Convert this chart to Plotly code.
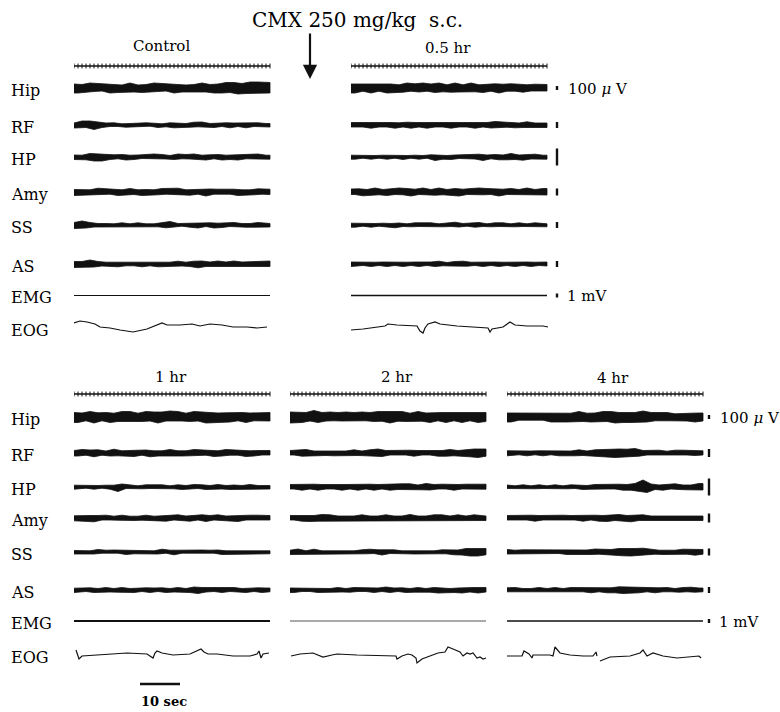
import numpy as np
import plotly.graph_objects as go

# ------------------------------------------------------------------
# Polygraphic recording: CMX 250 mg/kg s.c.
# EEG channels are stored as successive peak excursions (one per
# half-wave, alternately upward and downward, pen-deflection units);
# EOG as (time, deflection) pairs, positive = upward deflection.
# ------------------------------------------------------------------
ROW_LABELS = ["Hip", "RF", "HP", "Amy", "SS", "AS", "EMG", "EOG"]
PANEL_TITLES = ["Control", "0.5 hr", "1 hr", "2 hr", "4 hr"]
EPOCH_SEC = 49.0          # length of each sweep
TIME_MARK_SEC = 1.0       # time-marker tick interval
SCALE_BAR_SEC = 10.0      # time calibration bar

# --- Control ---
CTRL_HIP = [4, 5, 3.5, 4.5, 5, 3.5, 4.5, 3, 4, 5, 3.5, 4.5, 3, 4, 5, 4, 3, 4.5, 3.5, 4,
            5, 3.5, 4.5, 3, 4, 5, 3.5, 4, 3, 4.5, 3.5, 4, 5, 4, 3.5, 5, 4, 5, 5.5, 4.5,
            5.5, 6, 4.5, 5.5, 6, 5, 6, 5, 5.5, 5]
CTRL_RF = [2, 3, 4, 2.5, 4, 4.5, 3, 2.5, 2, 1.5, 2.2, 1.5, 1.2, 2.2, 1.5, 1.2, 2.2, 1.5, 2.2, 1.2,
           1.8, 2.5, 1.2, 1.8, 2.2, 2.8, 1.5, 2.2, 1.5, 2.2, 2.8, 1.8, 3, 2, 1.5, 2.5, 2, 1.5, 2.2, 2.8,
           2, 1.5, 2.2, 2.8, 2, 1.5, 2.2, 2, 1.5, 2]
CTRL_HP = [2, 2.5, 1.8, 2.8, 3.5, 4, 3, 4, 3.2, 2.5, 2.2, 1.8, 2.5, 3, 1.8, 2.5, 2, 1.5, 2.5, 2,
           3, 1.8, 2.5, 2, 1.5, 2.5, 3, 1.8, 2.5, 2, 3, 2.2, 1.8, 3, 2.2, 1.8, 2.5, 3, 1.8, 2.5,
           2, 3, 2.2, 1.8, 2.5, 2, 3, 2.2, 1.8, 2.2]
CTRL_AMY = [2.5, 3.5, 2.5, 3.2, 2.2, 3.2, 3.8, 2.5, 3.2, 2.2, 2.8, 3.5, 2.2, 2.8, 3.5, 2.5, 2.2, 3.5, 2.5, 3.2,
            2.2, 2.8, 3.5, 2.2, 3.5, 2.5, 3.8, 2.8, 2.2, 3.2, 2.5, 2.2, 3.2, 4, 3, 2.2, 2.8, 2.2, 3, 2.2,
            2.8, 3.5, 2.2, 2.8, 2.2, 2.8, 3.2, 2.2, 2.8, 2.5]
CTRL_SS = [2.5, 3.5, 4, 3, 2.5, 2, 1.5, 2.2, 1.5, 2.2, 1.2, 1.8, 2.2, 1.5, 1.2, 1.8, 2.2, 1.5, 1.2, 1.8,
           1.2, 1.8, 2.2, 2.8, 3.5, 2, 1.5, 1.2, 1.8, 2.2, 1.5, 3, 2, 1.5, 2.2, 3, 1.8, 2.5, 2, 1.5,
           2.5, 2, 1.5, 2.2, 1.5, 2.2, 2.5, 1.8, 1.5, 2]
CTRL_AS = [2.5, 3.5, 2.5, 3.5, 4, 3, 2.5, 2, 1.8, 2.5, 1.8, 2.8, 2, 1.8, 2.5, 1.8, 2.2, 2.8, 2, 1.8,
           2.5, 2.8, 1.8, 2.5, 1.8, 2.2, 2.8, 2, 1.8, 2.5, 2.8, 3.8, 3, 2.5, 2, 2.8, 3, 2.5, 2, 2.8,
           3, 2.5, 2, 2.8, 2.2, 2.8, 2.2, 2.5, 3, 2.5]
EOG_CTRL_T = [0, 1.5, 3.25, 5.25, 6.5, 9, 11.5, 14.75, 18.25, 21.5, 22, 23.25, 26.5, 29.5, 31.5,
              34, 37, 39.75, 43.25, 45.75, 48.25]
EOG_CTRL_V = [5, 7, 6, 4, 1, 0, -2, -4, -1, 4, 5, 3, 3, 4, 2, 4, 3, 1, 1, 0, 1]

# --- 0.5 hr ---
H05_HIP = [4, 5, 4, 3.2, 4.5, 5, 3.8, 3.2, 4.2, 5, 4, 4.5, 3.2, 4.2, 5, 3.2, 4.2, 4, 5, 3.2,
           4, 4.5, 5, 3.8, 3.2, 4.2, 5, 4, 3.2, 4.2, 5, 3.8, 3.2, 4.5, 4, 3.2, 4.2, 5, 3.8, 3.2,
           4.2, 3.2, 3.8, 4.2, 3.2, 3, 3.8, 3, 3.5, 3]
H05_RF = [2.5, 2, 2.8, 2, 2.5, 3.2, 2.5, 2, 2.8, 2, 2.5, 3.2, 2.2, 2, 2.8, 3.2, 2.5, 2, 2.5, 3.2,
          2.5, 2, 2.8, 2, 2.5, 3.2, 2.5, 2, 2.8, 2, 2.5, 3.2, 2.2, 2, 2.5, 3, 3.5, 2.5, 3, 2.2,
          2, 2.8, 2, 2.5, 3.2, 2.5, 2, 2.8, 2, 2.5]
H05_HP = [1.8, 2.2, 1.5, 1.2, 1.8, 2.2, 1.5, 1.2, 1.8, 2.2, 1.5, 1.2, 1.8, 2.5, 1.5, 1.2, 1.8, 2.2, 1.5, 1.2,
          2.2, 3.5, 1.5, 2.2, 1.5, 2.5, 2, 1.5, 2.2, 1.5, 2.5, 2, 2.8, 3.5, 2, 1.8, 2.5, 2.8, 2, 2.8,
          3.5, 2.5, 2, 3.2, 2.5, 2, 2.8, 2, 1.8, 2.2]
H05_AMY = [3, 2.5, 3.2, 3.8, 2.5, 3.2, 4, 2.8, 2.5, 3.5, 3, 2.5, 4, 2.8, 3.5, 4, 2.8, 2.5, 4, 3,
           2.5, 3.2, 4, 2.8, 2.5, 3.2, 3.5, 4, 2.8, 2.5, 3.5, 2.8, 4, 2.8, 3.5, 2.5, 3, 4, 2.8, 2.5,
           3.5, 2.8, 2.5, 3.2, 4, 2.8, 2.5, 3, 3.5, 3]
H05_SS = [1.8, 2.2, 1.5, 1.2, 1.8, 2.2, 1.5, 1.2, 1.8, 2.2, 1.5, 2.8, 2, 1.5, 1.2, 1.8, 2.2, 1.5, 2.5, 1.5,
          2.2, 1.5, 1.2, 1.8, 2.2, 1.5, 2.8, 2, 1.5, 1.2, 1.8, 2.2, 2.5, 1.5, 1.2, 1.8, 2.2, 1.5, 2.2, 1.5,
          1.2, 1.8, 2.2, 1.5, 1.2, 1.8, 2.2, 1.5, 1.2, 1.8]
H05_AS = [2, 2.5, 1.8, 1.5, 2, 2.5, 1.8, 1.5, 2, 2.5, 1.8, 1.5, 2.2, 2.5, 1.8, 1.5, 2, 2.5, 1.8, 1.5,
          2, 2.5, 2.8, 1.8, 1.5, 2, 2.5, 1.8, 2.8, 2.2, 1.8, 1.5, 2, 2.5, 1.8, 1.5, 2, 2.5, 1.8, 1.5,
          2, 2.5, 1.8, 1.5, 2, 2.5, 1.8, 1.5, 2, 2]
EOG_H05_T = [0, 3, 8.5, 9.25, 11.5, 16.5, 17.25, 18, 18.5, 19.25, 21, 22.25, 26.5, 30.5, 34.25,
             34.75, 35.25, 38, 39.75, 41, 44, 46.5, 48, 49.25]
EOG_H05_V = [-2, -1, 2, 4, 3, 2, -3, -5, 0, 4, 6, 4, 2, 1, 0, -4, -1, 1, 6, 3, 2, 2, 2, 1]

# --- 1 hr ---
H1_HIP = [4.5, 5.5, 4, 3.8, 5.5, 6, 4.2, 3.8, 4.5, 5.5, 3.8, 4.5, 5.5, 4, 5.5, 4.5, 3.8, 4.5, 5.5, 4,
          5, 6, 5, 4, 6, 4.2, 5.5, 4, 3.8, 4.5, 5.5, 4, 5, 6, 4.2, 5.5, 4, 5.5, 4.2, 5,
          4.5, 3.8, 4.5, 5.5, 4, 3.8, 4.5, 3.8, 4.5, 4]
H1_RF = [2.5, 3, 3.5, 2.2, 3, 3.8, 3.2, 2.2, 2, 3, 3.8, 2.8, 2.2, 3, 2.2, 3.5, 2.8, 2.2, 3, 3.8,
         2.2, 3, 2.2, 2.8, 3.5, 2.8, 2.2, 3, 2.2, 2.8, 3.5, 2.2, 3, 2.2, 2.8, 3.5, 2.2, 3, 3.5, 2.2,
         3, 2.2, 2.8, 3.5, 2.2, 3, 2.5, 2, 2.5, 2]
H1_HP = [1.8, 2.2, 1.5, 1.2, 1.8, 2.2, 1.5, 1.2, 1.8, 2.2, 1.8, 4.5, 3, 1.5, 2.2, 1.5, 1.2, 1.8, 2.2, 1.5,
         2.5, 1.5, 2.2, 1.5, 1.2, 1.8, 2.2, 2.5, 1.5, 2.2, 2.5, 1.5, 2.2, 2.5, 1.5, 2.2, 2.5, 2, 1.5, 2.5,
         2, 2.5, 1.5, 2.2, 2.5, 2, 1.5, 2.2, 1.5, 2]
H1_AMY = [2.2, 2.8, 2, 3.5, 2.5, 3.8, 2.5, 2, 2.8, 2, 1.8, 2.2, 2.8, 2, 1.8, 2.5, 1.8, 2.2, 2.8, 2,
          1.8, 2.8, 2.2, 3.2, 2.5, 2, 3.2, 2.5, 2, 3.2, 2.5, 2, 3.2, 3.5, 2.5, 2, 3.2, 2.5, 2, 3.2,
          2.5, 3.5, 2.5, 2, 2.8, 2, 2.8, 2, 2.5, 2]
H1_SS = [1.5, 2, 1.2, 1.8, 1.2, 2, 2.5, 1.2, 1.8, 1.2, 2, 1.2, 1.8, 2.5, 1.2, 1.8, 1.2, 2, 1.2, 1.8,
         1.2, 2, 2.8, 1.2, 1.8, 2.8, 1.8, 1.2, 2, 1.2, 1.8, 1.2, 2, 1.2, 1.8, 1.2, 2, 2.5, 1.2, 1.8,
         1.2, 2, 1.2, 1.8, 1.2, 2, 1.2, 1.8, 1.2, 1.8]
H1_AS = [1.8, 2.5, 2, 1.5, 2.2, 2.5, 1.5, 2, 2.5, 2, 1.5, 2.2, 2.5, 2, 1.5, 2.5, 2, 1.5, 2.2, 2.5,
         2, 1.5, 2.2, 2.5, 1.5, 2, 2.5, 2, 1.5, 2.5, 3, 3.5, 2.5, 2, 2.5, 1.5, 2, 2.5, 2, 1.5,
         2.5, 2, 1.5, 2.5, 2, 1.5, 2.2, 2.5, 2, 1.8]
EOG_H1_T = [0.5, 1.25, 2, 6.5, 13.25, 18.25, 19, 19.75, 20.25, 20.75, 22, 24.75, 29, 31, 31.75,
            32.5, 33.5, 35.75, 39.75, 44, 45.75, 46.25, 46.75, 47.25, 48.75]
EOG_H1_V = [5, -4, -1, 0, 2, 1, -1, -3, 2, 4, 2, 0, 1, 5, 6, 3, 1, 1, -1, -1, 1, 4, -3, 1, 2]

# --- 2 hr ---
H2_HIP = [5, 6, 4.5, 5.5, 4.5, 4, 6.5, 5.5, 4.5, 4, 5, 3.8, 4.5, 4, 5, 3.8, 4.5, 4, 5, 3.8,
          4.5, 4.5, 5.5, 4.2, 5.5, 6, 5.5, 4.2, 5.5, 4.5, 3.8, 4.5, 5.5, 4.2, 4, 5.5, 4.5, 3.8, 4.5, 5.5,
          4.5, 3.8, 4.5, 5.5, 4.5, 3.8, 4.5, 5.5, 4.5, 4.5]
H2_RF = [2.5, 2, 2.8, 3.2, 3.5, 2.5, 2, 2.8, 2, 2.5, 2, 2.8, 2, 2.5, 2, 2.8, 3.2, 2.5, 2, 2.8,
         3.2, 3.5, 4, 3.5, 2.5, 2, 2.8, 2, 2.5, 2, 2.8, 3.2, 2.5, 2, 2.8, 2, 2.5, 3.2, 2.5, 3.2,
         3.5, 2.8, 2.5, 3.2, 3.5, 3.8, 4, 4.5, 4, 3.2]
H2_HP = [2.5, 2, 2.8, 3.2, 2.5, 2, 2.8, 3.2, 2.5, 2, 2.8, 2, 2.5, 3.2, 2.5, 2, 2.8, 3.2, 2.5, 2,
         2.8, 3.2, 2.5, 2, 2.8, 3.2, 3.5, 2.5, 3.2, 2.5, 3.2, 2.5, 2, 2.8, 3.5, 3, 2.5, 2, 2.8, 2,
         2.5, 3.2, 2.5, 2, 2.8, 2, 2.5, 2, 2.8, 2.2]
H2_AMY = [2.5, 2, 2.8, 3.2, 2.5, 3.5, 2.5, 3.2, 3.5, 2.5, 3.2, 2.5, 2, 2.8, 2, 2.5, 2, 2.8, 3.2, 2.5,
          2, 2.8, 2, 2.5, 3.2, 2.5, 2, 2.8, 2, 2.5, 3.5, 2.5, 2, 2.8, 2, 2.5, 3.2, 2.5, 3.2, 2.5,
          2, 2.8, 3.2, 2.5, 2, 2.8, 3.2, 2.5, 2, 2.5]
H2_SS = [1.8, 2.5, 3, 1.8, 1.2, 1.8, 2.8, 1.8, 1.2, 1.8, 1.2, 2, 1.2, 1.8, 1.2, 2, 1.2, 1.8, 2.2, 1.8,
         2.8, 1.5, 2.2, 3, 2.5, 1.5, 2.2, 1.8, 1.2, 1.8, 1.2, 2, 1.2, 1.8, 1.2, 2, 1.2, 1.8, 2.2, 1.8,
         2.2, 2.8, 2, 3, 3.5, 4, 3.2, 4, 3.5, 2.8]
H2_AS = [2, 2.5, 2, 1.5, 2.2, 1.5, 2, 2.5, 1.5, 2.2, 1.5, 2, 2.5, 2, 1.5, 2.2, 2.5, 1.5, 2.2, 1.5,
         2, 2.5, 2, 1.5, 3, 2.5, 2, 1.5, 2.2, 2.5, 1.5, 2.2, 2.5, 2, 1.5, 2.2, 2.5, 3, 2, 2.5,
         1.5, 2.5, 2, 3, 2.5, 2, 2.5, 3, 2.5, 2]
EOG_H2_T = [0.25, 2.5, 5.75, 8.25, 10.5, 11.75, 16.75, 22.5, 26.5, 26.75, 28, 29.5, 30.5, 31.5,
            31.75, 33, 35, 37, 38.75, 39.5, 40.75, 42.5, 43.25, 44.25, 45, 45.75, 46.75, 47.5,
            48.25, 49]
EOG_H2_V = [-1, 1, 2, -2, 0, 1, 0, -1, -1, -4, -1, 1, 0, -3, -8, -4, -1, 2, 3, 8, 6, 3, -1, 2,
            1, 2, -3, -2, -4, -3]

# --- 4 hr ---
H4_HIP = [4, 5, 4, 3.2, 4.5, 3.2, 4.2, 3.2, 4.5, 3.2, 4, 5, 4, 5, 4, 5, 3.8, 5, 5.5, 4.5,
          3.8, 5, 4, 5, 5.5, 4.5, 5.5, 6, 4.5, 5.5, 4.5, 5.5, 4.5, 5.5, 6, 5, 4.5, 3.8, 4.5, 3.8,
          4.5, 3.8, 3.2, 4.2, 3.2, 4, 3.8, 5, 4, 4]
H4_RF = [2.2, 2.8, 2, 1.8, 2.2, 2.8, 2, 1.8, 2.2, 2.8, 2, 1.8, 2.2, 2.8, 2, 2.8, 2, 2.8, 3.2, 2.5,
         2, 2.8, 3.2, 3.5, 3.5, 4, 4.2, 4.5, 4, 4.5, 3.8, 3.5, 4.5, 3.2, 2.5, 2, 2.8, 2, 2.8, 2,
         1.8, 2.2, 2.8, 2, 2.8, 2, 2.8, 2.5, 2.2, 2]
H4_HP = [2, 1.5, 1.2, 1.8, 2.2, 1.5, 1.2, 1.8, 2.2, 1.5, 1.2, 1.8, 2.2, 1.5, 1.2, 1.8, 2.2, 1.5, 2.2, 2.5,
         1.5, 2.2, 2.5, 1.8, 2.8, 2, 2.8, 2, 2.8, 3.2, 2.5, 3.2, 3.5, 4, 7, 5.5, 3, 2.5, 2, 3.2,
         2.5, 2, 3.2, 2.5, 2, 2.8, 2, 3.2, 3.5, 3]
H4_AMY = [2.5, 2, 2.8, 2, 2.5, 2, 2.8, 3.2, 2.5, 2, 2.8, 2, 2.5, 2, 2.8, 2, 2.5, 2, 2.8, 3.2,
          2.5, 2, 2.8, 3.2, 2.5, 3.5, 3, 2.5, 3.5, 3, 2.5, 3.8, 3, 2.5, 3.2, 2.5, 2, 2.8, 2, 2.5,
          2, 2.8, 2, 2.5, 2, 2.8, 2, 2.5, 2, 2.5]
H4_SS = [2.5, 2, 1.8, 1.5, 2.2, 1.5, 2.2, 1.5, 2.2, 1.5, 2.2, 1.5, 2.2, 1.5, 2.2, 2.5, 1.8, 2.5, 1.8, 2.5,
         2, 2.5, 3, 2.2, 3, 3.2, 2.5, 3.2, 3.5, 3.8, 3.2, 4, 3.5, 3.2, 3.8, 3, 2.5, 2.2, 1.8, 2.5,
         1.8, 2.5, 1.8, 2.5, 2.8, 2.2, 2.8, 3.2, 2.5, 2.2]
H4_AS = [2.2, 1.8, 2.5, 1.8, 1.5, 2.2, 1.5, 2.2, 2.5, 1.8, 1.5, 2.2, 2.5, 1.8, 1.5, 2.2, 2.5, 1.8, 2.5, 1.8,
         2.5, 2.8, 2.2, 1.8, 2.5, 2.8, 2.2, 2.8, 3.2, 3.5, 3, 3.5, 3, 2.8, 2.2, 1.8, 2.5, 2.8, 2.2, 1.8,
         2.5, 1.8, 1.5, 2.2, 2.5, 1.8, 2.8, 2.2, 2, 1.8]
EOG_H4_T = [0, 3.75, 4.25, 5.5, 6.25, 6.5, 10.75, 11.5, 12, 13.25, 15.75, 19, 21.5, 22.25, 22.5,
            None, 23.25, 25.75, 30.75, 33.25, 34, 35, 36.5, 39, 42.5, 45.75, 48, 48.5]
EOG_H4_V = [-1, -1, 4, 1, -3, 0, 0, -1, 8, 2, 0, -1, -1, 3, -1,
            None, -6, -2, -1, 2, 5, -1, 2, -1, -3, -2, -1, -3]

# 100 uV calibration height per EEG channel (pen units) and 1 mV EMG mark
CAL_EEG_TOP = [4, 6, 17, 7, 6, 6]
CAL_EEG_BOT = [4, 8, 17, 9, 7, 6]
CAL_EMG = 4

# ------------------------------------------------------------------
# Layout (page is 780 x 712; each panel has its own x/y axis pair,
# y expressed in page units so all panels share one vertical scale)
# ------------------------------------------------------------------
W, H = 780, 712
INK = "#111111"
FONT = "DejaVu Serif"
PX_PER_SEC = 4.0
AXIS_SPAN = 62.0   # seconds of horizontal room per panel (sweep + calibration column)

ROWS_TOP = [88, 125, 157, 192, 225, 264, 295.5, 328]
ROWS_BOT = [417, 453, 487, 518, 552, 590, 621, 655]
MARK_TOP, MARK_BOT = 66, 394

PANELS = [
    dict(title=PANEL_TITLES[0], x0=74, rows=ROWS_TOP, mark=MARK_TOP, tx=161, ty=46,
         eeg=[CTRL_HIP, CTRL_RF, CTRL_HP, CTRL_AMY, CTRL_SS, CTRL_AS],
         eog=(EOG_CTRL_T, EOG_CTRL_V), emg_w=1.0, emg_c=INK, cal=None),
    dict(title=PANEL_TITLES[1], x0=351, rows=ROWS_TOP, mark=MARK_TOP, tx=448, ty=48,
         eeg=[H05_HIP, H05_RF, H05_HP, H05_AMY, H05_SS, H05_AS],
         eog=(EOG_H05_T, EOG_H05_V), emg_w=1.6, emg_c=INK, cal=(51.5, CAL_EEG_TOP)),
    dict(title=PANEL_TITLES[2], x0=74, rows=ROWS_BOT, mark=MARK_BOT, tx=171, ty=377,
         eeg=[H1_HIP, H1_RF, H1_HP, H1_AMY, H1_SS, H1_AS],
         eog=(EOG_H1_T, EOG_H1_V), emg_w=1.8, emg_c=INK, cal=None),
    dict(title=PANEL_TITLES[3], x0=290, rows=ROWS_BOT, mark=MARK_BOT, tx=397, ty=377,
         eeg=[H2_HIP, H2_RF, H2_HP, H2_AMY, H2_SS, H2_AS],
         eog=(EOG_H2_T, EOG_H2_V), emg_w=1.0, emg_c="#555555", cal=None),
    dict(title=PANEL_TITLES[4], x0=507, rows=ROWS_BOT, mark=MARK_BOT, tx=613, ty=378,
         eeg=[H4_HIP, H4_RF, H4_HP, H4_AMY, H4_SS, H4_AS],
         eog=(EOG_H4_T, EOG_H4_V), emg_w=1.4, emg_c=INK, cal=(50.5, CAL_EEG_BOT)),
]

fig = go.Figure()
annotations = []
layout_axes = {}


def line_trace(x, y, xa, ya, width, color=INK, **kw):
    return go.Scatter(x=x, y=y, xaxis=xa, yaxis=ya, mode="lines",
                      line=dict(color=color, width=width), hoverinfo="skip", **kw)


for i, p in enumerate(PANELS):
    n = "" if i == 0 else str(i + 1)
    xa, ya = "x" + n, "y" + n
    layout_axes["xaxis" + n] = dict(
        domain=[p["x0"] / W, min(1.0, (p["x0"] + PX_PER_SEC * AXIS_SPAN) / W)],
        range=[0, AXIS_SPAN], anchor=ya, visible=False, fixedrange=True,
    )
    layout_axes["yaxis" + n] = dict(domain=[0, 1], range=[H, 0], anchor=xa,
                                    visible=False, fixedrange=True)
    rows = p["rows"]

    # time marker: baseline with 1-s ticks
    fig.add_trace(line_trace([0, EPOCH_SEC], [p["mark"], p["mark"]], xa, ya, 1.3))
    ticks = np.arange(0, EPOCH_SEC + 0.01, TIME_MARK_SEC)
    fig.add_trace(go.Scatter(x=ticks, y=[p["mark"]] * len(ticks), xaxis=xa, yaxis=ya,
                             mode="markers", hoverinfo="skip",
                             marker=dict(symbol="line-ns", size=3.5,
                                         line=dict(color=INK, width=1))))

    # EEG channels: band between the upward peaks (even half-waves)
    # and the downward peaks (odd half-waves), squared off at the sweep ends
    for ch, pk in enumerate(p["eeg"]):
        pk = np.asarray(pk, dtype=float)
        t = np.linspace(0, EPOCH_SEC, len(pk))
        base = rows[ch]
        up_t, up_v = t[0::2], base - pk[0::2]
        dn_t, dn_v = t[1::2], base + pk[1::2]
        xs = np.concatenate([up_t, [EPOCH_SEC], dn_t[::-1], [0.0]])
        ys = np.concatenate([up_v, [up_v[-1]], dn_v[::-1], [dn_v[0]]])
        fig.add_trace(line_trace(xs, ys, xa, ya, 0.8, fill="toself", fillcolor=INK))

    # EMG (flat)
    fig.add_trace(line_trace([0, EPOCH_SEC], [rows[6], rows[6]], xa, ya, p["emg_w"], p["emg_c"]))

    # EOG
    et, ev = p["eog"]
    ey = [None if v is None else rows[7] - v for v in ev]
    fig.add_trace(line_trace(et, ey, xa, ya, 1.2, connectgaps=False))

    # panel title
    annotations.append(dict(text=p["title"], x=p["tx"] / W, xref="paper", y=p["ty"], yref=ya,
                            showarrow=False, xanchor="center", yanchor="middle",
                            font=dict(family=FONT, size=15, color="#000")))

    # amplitude calibration column
    if p["cal"] is not None:
        ct, heights = p["cal"]
        for ch, h in enumerate(heights):
            fig.add_trace(line_trace([ct, ct], [rows[ch] - h / 2, rows[ch] + h / 2], xa, ya, 2.4))
        fig.add_trace(line_trace([ct, ct], [rows[6] - CAL_EMG / 2, rows[6] + CAL_EMG / 2],
                                 xa, ya, 2.4))
        annotations.append(dict(text="100 <i>μ</i> V", x=ct + 2.2, xref=xa, y=rows[0] + 0.5,
                                yref=ya, showarrow=False, xanchor="left", yanchor="middle",
                                font=dict(family=FONT, size=15, color="#000")))
        annotations.append(dict(text="1 mV", x=ct + 2.0, xref=xa, y=rows[6] + 0.5,
                                yref=ya, showarrow=False, xanchor="left", yanchor="middle",
                                font=dict(family=FONT, size=15, color="#000")))

# channel labels
for rows in (ROWS_TOP, ROWS_BOT):
    for lab, yv in zip(ROW_LABELS, rows):
        annotations.append(dict(text=lab, x=9 / W, xref="paper", y=yv + 2, yref="y",
                                showarrow=False, xanchor="left", yanchor="middle",
                                font=dict(family=FONT, size=16, color="#000")))

# 10-s time calibration under the 1 hr panel
bar_t0 = 16.5
fig.add_trace(line_trace([bar_t0, bar_t0 + SCALE_BAR_SEC], [684, 684], "x3", "y3", 2.6))
annotations.append(dict(text="<b>10 sec</b>", x=bar_t0 + SCALE_BAR_SEC / 2 + 1, xref="x3",
                        y=701, yref="y3", showarrow=False, xanchor="center", yanchor="middle",
                        font=dict(family=FONT, size=13, color="#000")))

# injection header and arrow
annotations.append(dict(text="CMX 250 mg/kg  s.c.", x=357 / W, xref="paper", y=20, yref="y",
                        showarrow=False, xanchor="center", yanchor="middle",
                        font=dict(family=FONT, size=20, color="#000")))
annotations.append(dict(text="", x=310 / W, xref="paper", y=79, yref="y",
                        showarrow=True, ax=0, ay=-47, arrowhead=2, arrowsize=1.3,
                        arrowwidth=2.2, arrowcolor=INK, standoff=0))

fig.update_layout(
    width=W, height=H,
    margin=dict(l=0, r=0, t=0, b=0),
    paper_bgcolor="white", plot_bgcolor="rgba(0,0,0,0)",
    showlegend=False,
    annotations=annotations,
    **layout_axes,
)

fig.write_html("out.html")
